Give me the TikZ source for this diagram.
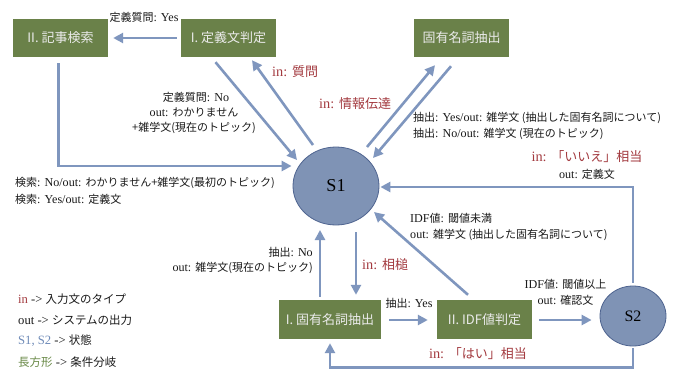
\documentclass[tikz,border=0pt]{standalone}
\usepackage{fontspec}
\setmainfont{Liberation Serif}[Scale=1.1]
\newfontfamily\jpfont{Noto Sans CJK JP}
\newcommand\J[1]{{\jpfont #1}}
\usetikzlibrary{arrows.meta,calc,shapes.geometric}
\definecolor{boxgreen}{HTML}{6A8149}
\definecolor{stfill}{HTML}{7F93B5}
\definecolor{stline}{HTML}{4F6490}
\definecolor{arrblue}{HTML}{7F96BE}
\definecolor{inred}{HTML}{A33A3F}
\definecolor{txt}{HTML}{1A1A1A}
\definecolor{legblue}{HTML}{6F8BB8}
\definecolor{leggreen}{HTML}{6A8A48}
\begin{document}
\begin{tikzpicture}[x=1pt,y=-1pt,
 box/.style={fill=boxgreen, text=white!92!black, font=\jpfont\fontsize{13}{15}\selectfont, minimum width=95pt, minimum height=38pt, inner sep=0pt},
 state/.style={ellipse, fill=stfill, draw=stline, line width=0.8pt, inner sep=0pt, text=black},
 arr/.style={draw=arrblue, line width=2.6pt, -{Triangle[length=10pt,width=10pt]}},
 lab/.style={font=\fontsize{11}{16}\selectfont, text=txt, inner sep=0pt},
 inlab/.style={font=\fontsize{13}{15}\selectfont, text=inred, inner sep=0pt},
 leg/.style={font=\fontsize{11.5}{14}\selectfont, text=txt, inner sep=0pt, anchor=west},
]
\useasboundingbox[fill=white] (0,0) rectangle (685,372);

% boxes
\node[box] (kiji) at (60.5,38) {II. 記事検索};
\node[box] (tei) at (228.5,38) {I. 定義文判定};
\node[box] (koyu) at (461.5,38) {固有名詞抽出};
\node[box, minimum width=102pt, minimum height=39pt] (kex) at (330,319.5) {I. 固有名詞抽出};
\node[box, minimum height=39pt] (idf) at (484.5,319.5) {II. IDF値判定};

% states
\node[state, minimum width=86pt, minimum height=78pt, font=\fontsize{16.5}{20}\selectfont] (s1) at (336,186) {S1};
\node[state, minimum width=66pt, minimum height=60pt, font=\fontsize{14.5}{18}\selectfont] (s2) at (633,316) {S2};

% connectors
\draw[arr] ($(tei.west)+(-4,0)$) -- ($(kiji.east)+(5,0)$);
\draw[arr] ($(kiji.south)+(-2,6)$) |- ($(s1.west)+(-1,-20)$);
\draw[arr] ($(tei.south)+(-13,5)$) -- ($(s1)+(-39,-26)$);
\draw[arr] ($(s1)+(-23,-41)$) -- ($(tei.south)+(23.5,3)$);
\draw[arr] ($(s1)+(31,-39)$) -- ($(koyu.south)+(-26.5,8)$);
\draw[arr] ($(koyu.south)+(-10.5,9)$) -- ($(s1)+(37,-28)$);
\draw[arr] ($(s2.north)+(0,-3)$) |- ($(s1.east)+(1,1)$);
\draw[arr] ($(idf.north)+(-16.5,-5)$) -- ($(s1)+(38,26)$);
\draw[arr] ($(kex.north)+(-10,-3)$) -- ($(s1)+(-16,44)$);
\draw[arr] ($(s1)+(20,46)$) -- ($(kex.north)+(26,-5)$);
\draw[arr] ($(kex.east)+(8,0.5)$) -- ($(idf.west)+(-9,0.5)$);
\draw[arr] ($(idf.east)+(7,0.5)$) -- ($(s2.west)+(-8,4)$);
\draw[arr] ($(s2.south)+(0,2)$) -- ++(0,19) -| ($(kex.south)+(0,4)$);

% labels
\node[lab] (l1) at (144,17) {\J{定義質問}: Yes};
\node[lab] (l2) at (196,97) {\J{定義質問}: No};
\node[lab, align=center, font=\fontsize{11}{15}\selectfont] (l3) at (194,120.5) {out: \J{わかりません}\\\J{+雑学文(現在のトピック)}};
\node[inlab, anchor=west] (l4) at (272,72) {in: \J{質問}};
\node[inlab, anchor=west] (l5) at (319,104) {in: \J{情報伝達}};
\node[lab, anchor=west, align=left] (l6) at (413,126) {\J{抽出}: Yes/out: \J{雑学文 (抽出した固有名詞について)}\\\J{抽出}: No/out: \J{雑学文 (現在のトピック)}};
\node[lab, anchor=west, align=left, font=\fontsize{11}{17}\selectfont] (l7) at (15,190.5) {\J{検索}: No/out: \J{わかりません+雑学文(最初のトピック)}\\\J{検索}: Yes/out: \J{定義文}};
\node[inlab] (l8) at (587,157) {in: \J{「いいえ」相当}};
\node[lab] (l9) at (587,174) {out: \J{定義文}};
\node[lab, anchor=west, align=left] (l10) at (410,227) {IDF\J{値}: \J{閾値未満}\\out: \J{雑学文 (抽出した固有名詞について)}};
\node[lab, anchor=east, align=right, font=\fontsize{11}{15}\selectfont] (l11) at (313,260.5) {\J{抽出}: No\\out: \J{雑学文(現在のトピック)}};
\node[inlab, anchor=west] (l12) at (362,265) {in: \J{相槌}};
\node[lab] (l13) at (409,303) {\J{抽出}: Yes};
\node[lab, align=center] (l14) at (565.5,292) {IDF\J{値}: \J{閾値以上}\\out: \J{確認文}};
\node[inlab] (l15) at (478,354) {in: \J{「はい」相当}};

% legend
\node[leg] (g1) at (18,299) {\textcolor{inred}{in} -> \J{入力文のタイプ}};
\node[leg] (g2) at (18,320) {out -> \J{システムの出力}};
\node[leg] (g3) at (18,341) {\textcolor{legblue}{S1, S2} -> \J{状態}};
\node[leg] (g4) at (18,362) {\textcolor{leggreen}{\J{長方形}} -> \J{条件分岐}};
\end{tikzpicture}
\end{document}
